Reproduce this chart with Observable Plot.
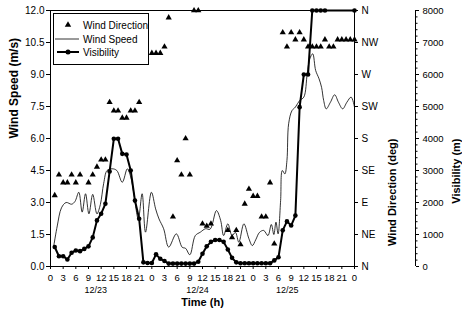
<!DOCTYPE html>
<html><head><meta charset="utf-8">
<script src="https://cdn.jsdelivr.net/npm/d3@7"></script>
<script src="https://cdn.jsdelivr.net/npm/@observablehq/plot@0.6"></script>
<style>
body{margin:0;background:#fff;}
#chart{position:relative;width:462px;height:314px;}
</style></head><body><div id="chart"></div>
<script>
// Wind direction (degrees) by hour
const dirHours = [1,2,3,4,5,6,7,9,10,11,12,13,14,15,16,17,18,19,20,21,
  24,25,26,27,28,29,30,31,32,33,34,35,36,37,38,42,43,44,45,46,47,48,49,50,51,52,53,
  55,56,57,58,59,60,61,62,63,64,65,66,67,68,69,70,71,72];
const dirDegrees = [100,129,118,118,129,118,129,118,129,140,150,150,231,219,219,209,209,219,219,231,
  300,300,300,309,350,70,149,129,180,129,360,360,60,57,60,51,41,51,31,88,109,99,99,70,70,118,32,
  329,309,329,319,329,319,309,309,309,309,319,309,309,319,319,319,319,319];

// Wind speed (m/s), continuous trace
const speedHours = [0.8,1.6,2.6,3.7,5.0,5.8,6.7,7.5,8.3,9.1,10.0,11.0,11.8,12.6,13.4,14.6,15.7,17.0,18.2,19.0,19.7,20.8,21.7,22.5,23.9,
  24.9,25.7,26.8,28.0,29.8,31.2,32.0,33.0,34.3,35.5,36.7,37.8,39.3,40.3,41.0,42.0,43.0,43.8,44.6,45.8,47.0,47.8,
  48.6,49.5,50.5,51.5,52.3,52.9,53.4,53.9,54.5,54.9,55.5,56.0,56.4,57.2,58.0,59.0,60.0,60.8,61.4,62.1,62.8,63.6,64.2,64.7,65.3,66.3,67.3,68.2,69.2,70.2,71.2,72.0];
const speedValues = [1.0,1.9,2.75,3.0,2.92,3.05,3.48,2.55,3.41,2.47,3.38,2.47,2.9,3.9,4.5,4.58,4.5,3.95,4.58,4.2,3.48,2.23,3.41,1.61,3.48,
  2.7,2.23,1.77,0.91,1.53,0.9,0.85,0.55,1.45,1.61,1.77,1.75,2.62,2.16,1.45,2.0,1.45,1.6,1.14,2.0,1.3,0.98,
  1.25,1.6,1.69,1.45,1.97,1.5,2.08,1.53,3.09,4.5,4.34,4.97,6.69,7.31,7.47,7.78,7.94,9.03,9.73,9.97,9.19,8.8,8.4,7.78,7.39,7.7,8.05,7.7,7.39,7.7,7.94,7.47];

// Visibility (m) by hour
const visHours = [1,2,3,4,5,6,7,8,9,10,11,12,13,14,15,16,17,18,19,20,21,22,23,24,25,26,27,28,29,30,31,32,33,34,35,
  36,37,38,39,40,41,42,43,44,45,46,47,48,49,50,51,52,53,54,55,56,57,58,59,60,61,62,63,64,65,72];
const visMeters = [610,320,320,220,430,500,480,550,630,910,1440,1650,1960,2970,3990,3990,3520,3500,3000,2060,1490,130,110,110,380,240,170,90,90,90,90,90,90,90,150,
  400,630,770,830,830,770,530,270,130,100,100,100,100,100,100,100,100,190,290,1130,1410,1280,1590,4980,6000,6000,8000,8000,8000,8000,8000];

const xTicks = d3.range(0, 73, 3);
const dateLabels = ["12/23", "12/24", "12/25"];
const dateHours = [10.7, 34.8, 56.1];
const speedTicks = d3.range(0, 12.01, 1.5);
const dirLabels = ["N", "NE", "E", "SE", "S", "SW", "W", "NW", "N"];
const visTicks = d3.range(0, 8001, 1000);
const visMinor = d3.range(0, 8001, 200);

const degToSpeed = d => d / 30;
const visToSpeed = v => v * 12 / 8000;

const dirData = dirHours.map((h, i) => ({h, v: degToSpeed(dirDegrees[i])}));
const speedData = speedHours.map((h, i) => ({h, v: speedValues[i]}));
const visData = visHours.map((h, i) => ({h, v: visToSpeed(visMeters[i])}));

const font = "'Liberation Sans', Arial, Helvetica, sans-serif";

const plot = Plot.plot({
  width: 462, height: 314,
  marginLeft: 50, marginRight: 108, marginTop: 10, marginBottom: 48,
  style: {fontFamily: font, fontSize: "10px", background: "#fff", color: "#000", overflow: "visible"},
  x: {domain: [0, 72]},
  y: {domain: [0, 12]},
  marks: [
    Plot.line(speedData, {x: "h", y: "v", curve: "catmull-rom", stroke: "#000", strokeWidth: 0.8}),
    Plot.dot(dirData, {x: "h", y: "v", symbol: "triangle", r: 2.3, fill: "#000", stroke: "none"}),
    Plot.line(visData, {x: "h", y: "v", stroke: "#000", strokeWidth: 2}),
    Plot.dot(visData, {x: "h", y: "v", r: 2.3, fill: "#000", stroke: "none"}),
    Plot.frame({stroke: "#000", strokeWidth: 1}),
    Plot.axisX({ticks: xTicks, tickFormat: d => `${d % 24}`, tickSize: 3, tickPadding: 5, fontSize: 9.5, label: null}),
    Plot.axisY({ticks: speedTicks, tickFormat: d => d.toFixed(1), tickSize: 4, tickPadding: 2, label: null}),
    Plot.axisY({anchor: "right", ticks: speedTicks, tickFormat: d => dirLabels[Math.round(d / 1.5)], tickSize: 3, tickPadding: 4, label: null}),
    Plot.axisY({anchor: "right", ticks: visTicks.map(visToSpeed), tickFormat: d => `${Math.round(d * 8000 / 12)}`, tickSize: 3, tickPadding: 4, dx: 61, fontSize: 9.5, label: null}),
    Plot.axisY({anchor: "right", ticks: visMinor.map(visToSpeed), tickFormat: () => "", tickSize: 1.5, dx: 61, label: null}),
    Plot.ruleX([72], {y1: 0, y2: 12, dx: 61, stroke: "#000", strokeWidth: 1}),
    Plot.text(dateLabels, {x: (d, i) => dateHours[i], frameAnchor: "bottom", dy: 26.5, fontSize: 9}),
    Plot.text(["Time (h)"], {frameAnchor: "bottom", dy: 39.5, fontWeight: "bold", fontSize: 11}),
    Plot.text(["Wind Speed (m/s)"], {frameAnchor: "left", rotate: -90, dx: -36, fontWeight: "bold", fontSize: 12}),
    Plot.text(["Wind Direction (deg)"], {frameAnchor: "right", rotate: -90, dx: 38, fontWeight: "bold", fontSize: 11}),
    Plot.text(["Visibility (m)"], {frameAnchor: "right", rotate: -90, dx: 102, fontWeight: "bold", fontSize: 11})
  ]
});
document.getElementById("chart").appendChild(plot);

// Legend
const svg = d3.select(plot);
const lg = svg.append("g").attr("font-family", font).attr("font-size", 10).attr("text-anchor", "start");
lg.append("rect").attr("x", 53.5).attr("y", 13.5).attr("width", 95).attr("height", 51)
  .attr("fill", "#fff").attr("stroke", "#000").attr("stroke-width", 1);
lg.append("path").attr("d", d3.symbol(d3.symbolTriangle, 18)()).attr("transform", "translate(68,25)").attr("fill", "#000");
lg.append("text").attr("x", 83).attr("y", 28.5).text("Wind Direction");
lg.append("line").attr("x1", 55).attr("x2", 79).attr("y1", 39).attr("y2", 39).attr("stroke", "#000").attr("stroke-width", 0.8);
lg.append("text").attr("x", 83).attr("y", 42.5).text("Wind Speed");
lg.append("line").attr("x1", 57).attr("x2", 79).attr("y1", 52).attr("y2", 52).attr("stroke", "#000").attr("stroke-width", 2);
lg.append("circle").attr("cx", 68).attr("cy", 52).attr("r", 2.5).attr("fill", "#000");
lg.append("text").attr("x", 83).attr("y", 55.5).text("Visibility");
</script>
</body></html>
